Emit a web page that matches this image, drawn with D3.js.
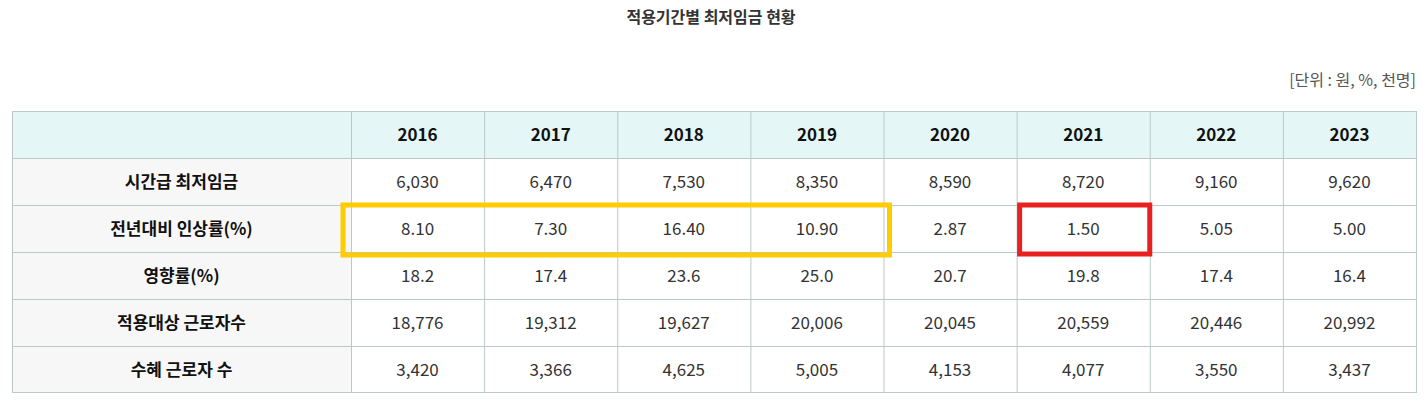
<!DOCTYPE html>
<html><head><meta charset="utf-8">
<script src="https://cdn.jsdelivr.net/npm/d3@7"></script>
<style>body{margin:0;background:#fff}</style>
</head><body><svg></svg>
<script>
var years = ["2016","2017","2018","2019","2020","2021","2022","2023"];
var rowLabels = ["시간급 최저임금","전년대비 인상률(%)","영향률(%)","적용대상 근로자수","수혜 근로자 수"];
var wage = ["6,030","6,470","7,530","8,350","8,590","8,720","9,160","9,620"];
var raise = ["8.10","7.30","16.40","10.90","2.87","1.50","5.05","5.00"];
var impact = ["18.2","17.4","23.6","25.0","20.7","19.8","17.4","16.4"];
var covered = ["18,776","19,312","19,627","20,006","20,045","20,559","20,446","20,992"];
var benefit = ["3,420","3,366","4,625","5,005","4,153","4,077","3,550","3,437"];
var rows = [wage, raise, impact, covered, benefit];

var W = 1423, H = 403;
var font = "'Noto Sans CJK KR','Noto Sans',sans-serif";
var svg = d3.select("svg").attr("width", W).attr("height", H);

var tLeft = 12, labelW = 339, tRight = 1416, tTop = 111, rowH = 47;
var x = d3.scaleBand().domain(years).range([tLeft + labelW, tRight]);
var y = d3.scaleBand().domain(["head"].concat(rowLabels)).range([tTop, tTop + rowH * 6]);

svg.append("text").attr("x", 711).attr("y", 23).attr("text-anchor", "middle")
  .style("font-family", font).style("font-size", "16px").style("font-weight", "bold")
  .attr("fill", "#333").text("적용기간별 최저임금 현황");
svg.append("text").attr("x", tRight).attr("y", 86).attr("text-anchor", "end")
  .style("font-family", font).style("font-size", "16px").attr("fill", "#555")
  .text("[단위 : 원, %, 천명]");

// backgrounds
svg.append("rect").attr("x", tLeft).attr("y", y("head")).attr("width", tRight - tLeft).attr("height", rowH).attr("fill", "#e4f6f6");
svg.append("rect").attr("x", tLeft).attr("y", y(rowLabels[0])).attr("width", labelW).attr("height", rowH * 5).attr("fill", "#f7f7f7");

// grid
var g = svg.append("g").attr("stroke", "#bcc8c8").attr("stroke-width", 1);
y.domain().forEach(function(d){ g.append("line").attr("x1", tLeft).attr("x2", tRight).attr("y1", y(d)+0.5).attr("y2", y(d)+0.5); });
g.append("line").attr("x1", tLeft).attr("x2", tRight).attr("y1", tTop+rowH*6-0.5).attr("y2", tTop+rowH*6-0.5);
[tLeft].concat(years.map(function(d){return x(d);})).concat([tRight]).forEach(function(v){
  g.append("line").attr("x1", v+0.5).attr("x2", v+0.5).attr("y1", tTop).attr("y2", tTop+rowH*6);
});

// header
svg.selectAll(".yr").data(years).enter().append("text")
  .attr("x", function(d){ return x(d) + x.bandwidth()/2; })
  .attr("y", y("head") + rowH/2 + 6).attr("text-anchor", "middle")
  .style("font-family", font).style("font-size", "17px").style("font-weight", "bold")
  .attr("fill", "#111").text(function(d){ return d; });

rowLabels.forEach(function(lab, i){
  svg.append("text").attr("x", tLeft + labelW/2).attr("y", y(lab) + rowH/2 + 6).attr("text-anchor", "middle")
    .style("font-family", font).style("font-size", "17px").style("font-weight", "bold")
    .attr("fill", "#111").text(lab);
  svg.selectAll(".c"+i).data(rows[i]).enter().append("text")
    .attr("x", function(d, j){ return x(years[j]) + x.bandwidth()/2; })
    .attr("y", y(lab) + rowH/2 + 6).attr("text-anchor", "middle")
    .style("font-family", font).style("font-size", "17px").attr("fill", "#333")
    .text(function(d){ return d; });
});

// highlight boxes
var ry = y(rowLabels[1]);
svg.append("rect").attr("x", x("2016") - 8).attr("y", ry).attr("width", x("2019") + x.bandwidth() + 6 - (x("2016") - 8)).attr("height", rowH + 3)
  .attr("fill", "none").attr("stroke", "#ffcc00").attr("stroke-width", 5);
svg.append("rect").attr("x", x("2021") + 3).attr("y", ry).attr("width", x.bandwidth() - 3).attr("height", rowH + 2)
  .attr("fill", "none").attr("stroke", "#e82020").attr("stroke-width", 5);
</script>
</body></html>
